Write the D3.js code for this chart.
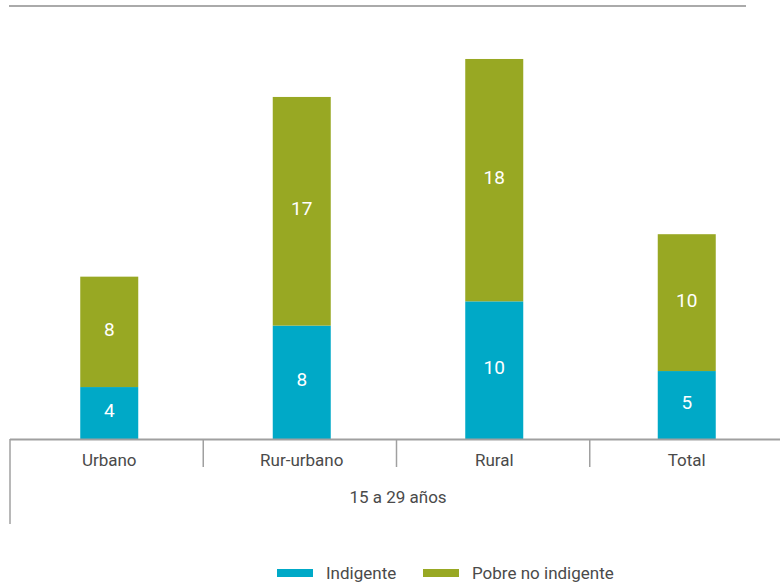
<!DOCTYPE html>
<html>
<head>
<meta charset="utf-8">
<script src="https://cdn.jsdelivr.net/npm/d3@7"></script>
<style>
  html, body { margin: 0; padding: 0; background: #fff; }
  svg { display: block; font-family: Roboto, "Noto Sans", sans-serif; }
</style>
</head>
<body>
<svg id="chart" width="780" height="585"></svg>
<script>
const categories = ["Urbano", "Rur-urbano", "Rural", "Total"];
const groupLabel = "15 a 29 años";
const seriesNames = ["Indigente", "Pobre no indigente"];
const indigente = [3.83, 8.36, 10.15, 5.01];
const pobreNoIndigente = [8.14, 16.86, 17.87, 10.09];
const colors = ["#00a9c7", "#98a823"];

const svg = d3.select("#chart");
const baseY = 439;
const y = d3.scaleLinear().domain([0, 32]).range([baseY, 5]);
const x = d3.scaleBand().domain(categories).range([10, 783]).padding(0);
const xBar = d3.scaleBand().domain(categories).range([13, 783]).padding(0);
const barW = 58;
const cx = c => xBar(c) + xBar.bandwidth() / 2;

const rows = categories.map((c, i) => ({ cat: c, Indigente: indigente[i], "Pobre no indigente": pobreNoIndigente[i] }));
const stack = d3.stack().keys(seriesNames)(rows);

// top decorative line
svg.append("line").attr("x1", 9).attr("x2", 746).attr("y1", 6).attr("y2", 6)
  .attr("stroke", "#aaaaaa").attr("stroke-width", 2);

// bars
stack.forEach((layer, li) => {
  const g = svg.append("g");
  g.selectAll("rect").data(layer).join("rect")
    .attr("x", d => cx(d.data.cat) - barW / 2)
    .attr("width", barW)
    .attr("y", d => y(d[1]))
    .attr("height", d => y(d[0]) - y(d[1]))
    .attr("fill", colors[li]);
  g.selectAll("text").data(layer).join("text")
    .attr("x", d => cx(d.data.cat))
    .attr("y", d => (y(d[0]) + y(d[1])) / 2)
    .attr("dy", "0.22em")
    .attr("text-anchor", "middle")
    .attr("fill", "#ffffff")
    .attr("font-size", 19)
    .text(d => Math.round(d[1] - d[0]));
});

// x axis baseline
svg.append("line").attr("x1", 10).attr("x2", 780).attr("y1", baseY + 0.5).attr("y2", baseY + 0.5)
  .attr("stroke", "#a0a0a0").attr("stroke-width", 2);

// separators
categories.forEach((c, i) => {
  const xx = x(c);
  svg.append("line").attr("x1", xx).attr("x2", xx)
    .attr("y1", baseY).attr("y2", i === 0 ? 524 : 467)
    .attr("stroke", "#a0a0a0").attr("stroke-width", 1.5);
});

// category labels
svg.append("g").selectAll("text").data(categories).join("text")
  .attr("x", d => cx(d))
  .attr("y", 466)
  .attr("text-anchor", "middle")
  .attr("fill", "#4a4a4a")
  .attr("font-size", 17)
  .text(d => d);

// group label
svg.append("text")
  .attr("x", (xBar.range()[0] + xBar.range()[1]) / 2)
  .attr("y", 503)
  .attr("text-anchor", "middle")
  .attr("fill", "#4a4a4a")
  .attr("font-size", 17)
  .text(groupLabel);

// legend
const legend = svg.append("g");
const legendX = [277, 423];
seriesNames.forEach((s, i) => {
  legend.append("rect").attr("x", legendX[i]).attr("y", 569).attr("width", 36).attr("height", 8)
    .attr("fill", colors[i]);
  legend.append("text").attr("x", legendX[i] + 49).attr("y", 579)
    .attr("fill", "#4a4a4a").attr("font-size", 17).text(s);
});
</script>
</body>
</html>
